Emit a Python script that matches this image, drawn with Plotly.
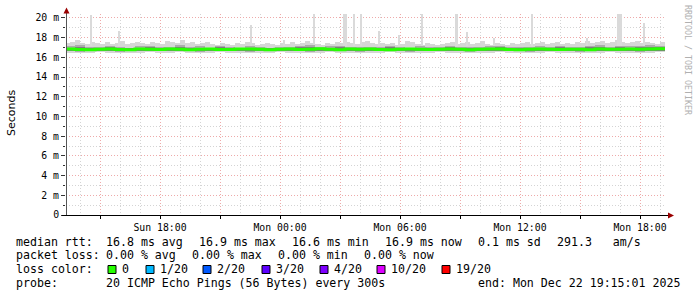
import numpy as np
import pandas as pd
import plotly.graph_objects as go

# ---------------- data ----------------
t_start = "2025-12-21 13:15"
t_end = "2025-12-22 19:15"

# upper envelope of the smoke, 15-minute blocks (ms)
smoke_hi15 = [
    17.5, 17.6, 17.8, 17.5, 17.4, 17.6, 17.5, 17.4,
    17.6, 17.4, 17.5, 17.7, 17.4, 17.5, 17.6, 17.5,
    17.4, 17.6, 17.5, 17.4, 17.7, 17.6, 17.5, 17.8,
    17.5, 17.6, 17.4, 17.5, 17.6, 17.4, 17.3, 17.5,
    17.4, 17.3, 17.5, 17.4, 17.6, 17.5, 17.3, 17.4,
    17.5, 17.4, 17.3, 17.5, 17.4, 17.6, 17.4, 17.5,
    17.7, 17.5, 17.4, 17.3, 17.5, 17.4, 17.6, 17.5,
    17.6, 17.5, 17.4, 17.6, 17.7, 17.5, 17.4, 17.5,
    17.4, 17.5, 17.3, 17.4, 17.7, 17.6, 17.4, 17.3,
    17.5, 17.4, 17.3, 17.4, 17.5, 17.6, 17.4, 17.5,
    17.6, 17.4, 17.5, 17.7, 17.4, 17.3, 17.5, 17.4,
    17.3, 17.5, 17.4, 17.5, 17.6, 17.4, 17.5, 17.6,
    17.4, 17.5, 17.6, 17.4, 17.5, 17.4, 17.6, 17.5,
    17.7, 17.5, 17.6, 17.7, 17.5, 17.6, 17.8, 17.6,
    17.5, 17.6, 17.7, 17.5, 17.6, 17.5, 17.4, 17.6,
]
# lower envelope of the smoke, 30-minute blocks (ms)
smoke_lo30 = [
    16.45, 16.40, 16.45, 16.50, 16.45, 16.40, 16.45, 16.45, 16.50, 16.45,
    16.45, 16.50, 16.45, 16.40, 16.45, 16.50, 16.45, 16.45, 16.40, 16.45,
    16.45, 16.50, 16.45, 16.45, 16.40, 16.45, 16.50, 16.45, 16.45, 16.40,
    16.45, 16.45, 16.50, 16.45, 16.40, 16.45, 16.45, 16.50, 16.45, 16.45,
    16.40, 16.45, 16.45, 16.50, 16.45, 16.45, 16.40, 16.45, 16.50, 16.45,
    16.45, 16.40, 16.45, 16.45, 16.50, 16.45, 16.45, 16.40, 16.45, 16.50,
]
# inner (denser) smoke band, 30-minute blocks (ms)
mid_hi30 = [
    17.15, 17.25, 17.10, 17.05, 17.20, 17.10, 17.00, 17.15, 17.20, 17.05,
    17.10, 17.25, 17.05, 17.15, 17.00, 17.20, 17.05, 17.00, 17.15, 17.05,
    17.00, 17.10, 17.05, 17.20, 17.25, 17.05, 17.15, 17.20, 17.10, 17.05,
    17.05, 17.10, 17.20, 17.05, 17.00, 17.15, 17.05, 17.10, 17.20, 17.05,
    17.10, 17.05, 17.15, 17.20, 17.05, 17.10, 17.05, 17.15, 17.05, 17.20,
    17.10, 17.05, 17.20, 17.25, 17.10, 17.20, 17.15, 17.20, 17.25, 17.20,
]
mid_lo30 = [
    16.60, 16.55, 16.60, 16.65, 16.60, 16.55, 16.60, 16.60, 16.65, 16.60,
    16.60, 16.65, 16.60, 16.55, 16.60, 16.65, 16.60, 16.60, 16.55, 16.60,
    16.60, 16.65, 16.60, 16.60, 16.55, 16.60, 16.65, 16.60, 16.60, 16.55,
    16.60, 16.60, 16.65, 16.60, 16.55, 16.60, 16.60, 16.65, 16.60, 16.60,
    16.55, 16.60, 16.60, 16.65, 16.60, 16.60, 16.55, 16.60, 16.65, 16.60,
    16.60, 16.55, 16.60, 16.60, 16.65, 16.60, 16.60, 16.55, 16.60, 16.65,
]
# darkest core around the median, 30-minute blocks (ms)
dark_hi30 = [
    17.00, 17.05, 16.95, 17.00, 17.05, 16.95, 16.90, 17.00, 17.05, 16.90,
    17.00, 17.05, 16.90, 17.00, 16.90, 17.05, 16.90, 16.90, 17.00, 16.90,
    16.90, 17.00, 16.90, 17.05, 17.05, 16.90, 17.00, 17.05, 16.95, 16.90,
    16.90, 17.00, 17.05, 16.90, 16.90, 17.00, 16.90, 17.00, 17.05, 16.90,
    17.00, 16.90, 17.00, 17.05, 16.90, 17.00, 16.90, 17.00, 16.90, 17.05,
    17.00, 16.90, 17.05, 17.05, 17.00, 17.05, 17.00, 17.05, 17.05, 17.05,
]
dark_lo30 = [
    16.62, 16.60, 16.62, 16.64, 16.62, 16.60, 16.62, 16.62, 16.64, 16.62,
    16.62, 16.64, 16.62, 16.60, 16.62, 16.64, 16.62, 16.62, 16.60, 16.62,
    16.62, 16.64, 16.62, 16.62, 16.60, 16.62, 16.64, 16.62, 16.62, 16.60,
    16.62, 16.62, 16.64, 16.62, 16.60, 16.62, 16.62, 16.64, 16.62, 16.62,
    16.60, 16.62, 16.62, 16.64, 16.62, 16.62, 16.60, 16.62, 16.64, 16.62,
    16.62, 16.60, 16.62, 16.62, 16.64, 16.62, 16.62, 16.60, 16.62, 16.64,
]
# median rtt, 30-minute blocks (ms)
median30 = [
    16.84, 16.80, 16.78, 16.83, 16.86, 16.80, 16.77, 16.84, 16.83, 16.79,
    16.86, 16.82, 16.78, 16.83, 16.85, 16.80, 16.79, 16.84, 16.86, 16.81,
    16.78, 16.82, 16.85, 16.79, 16.83, 16.87, 16.81, 16.78, 16.84, 16.82,
    16.85, 16.79, 16.78, 16.82, 16.86, 16.83, 16.79, 16.82, 16.85, 16.81,
    16.78, 16.82, 16.84, 16.86, 16.80, 16.77, 16.82, 16.85, 16.81, 16.79,
    16.83, 16.81, 16.78, 16.84, 16.81, 16.83, 16.86, 16.82, 16.85, 16.88,
]
# isolated slow pings (start time, top in ms, duration in minutes)
spike_time = ["2025-12-21 14:30", "2025-12-21 15:55", "2025-12-21 22:30",
              "2025-12-22 00:10", "2025-12-22 01:40", "2025-12-22 03:10",
              "2025-12-22 03:40", "2025-12-22 04:00", "2025-12-22 04:55",
              "2025-12-22 05:55", "2025-12-22 07:05", "2025-12-22 08:45",
              "2025-12-22 09:20", "2025-12-22 10:40", "2025-12-22 12:35",
              "2025-12-22 15:20", "2025-12-22 16:50", "2025-12-22 18:10"]
spike_top = [20.3, 18.7, 19.3, 17.8, 20.4, 20.4, 20.4, 20.4, 18.7,
             18.3, 20.4, 20.4, 18.6, 18.0, 20.4, 18.0, 20.4, 19.5]
spike_dur = [5, 5, 5, 5, 5, 10, 5, 5, 5, 5, 5, 10, 5, 5, 5, 5, 15, 5]
spike_base = 17.2

tick_times = ["2025-12-21 15:00", "2025-12-21 18:00", "2025-12-21 21:00",
              "2025-12-22 00:00", "2025-12-22 03:00", "2025-12-22 06:00",
              "2025-12-22 09:00", "2025-12-22 12:00", "2025-12-22 15:00",
              "2025-12-22 18:00"]
tick_text = ["", "Sun 18:00", "", "Mon 00:00", "", "Mon 06:00", "",
             "Mon 12:00", "", "Mon 18:00"]
y_ticks = [0, 2, 4, 6, 8, 10, 12, 14, 16, 18, 20]
y_text = ["0", "2 m", "4 m", "6 m", "8 m", "10 m", "12 m", "14 m", "16 m",
          "18 m", "20 m"]

loss_labels = ["0", "1/20", "2/20", "3/20", "4/20", "10/20", "19/20"]
loss_colors = ["#26ff00", "#00b8ff", "#0059ff", "#5e00ff", "#7e00ff",
               "#dd00ff", "#ff0000"]

line1 = ["median rtt:", "16.8 ms avg", "16.9 ms max", "16.6 ms min",
         "16.9 ms now", "0.1 ms sd", "291.3   am/s"]
line2 = ["packet loss:", "0.00 % avg", "0.00 % max", "0.00 % min",
         "0.00 % now"]
line4 = ["probe:", "20 ICMP Echo Pings (56 Bytes) every 300s",
         "end: Mon Dec 22 19:15:01 2025"]

# ---------------- build ----------------
t15 = pd.date_range(t_start, periods=len(smoke_hi15), freq="15min")
t30 = pd.date_range(t_start, periods=len(median30), freq="30min")
lo30 = np.array(smoke_lo30)
lo15 = np.repeat(lo30, 2)
ms15 = 15 * 60 * 1000
ms30 = 30 * 60 * 1000

LIGHT = "#d6d6d6"
MID = "#ababab"
DARK = "#7c7c7c"

fig = go.Figure()
fig.add_trace(go.Bar(x=t15, y=np.array(smoke_hi15) - lo15, base=lo15,
                     width=ms15, offset=0, marker_color=LIGHT,
                     marker_line_width=0, hoverinfo="skip"))
sp_lo = np.full(len(spike_top), spike_base)
fig.add_trace(go.Bar(x=pd.to_datetime(spike_time),
                     y=np.array(spike_top) - sp_lo, base=sp_lo,
                     width=[d * 60000 for d in spike_dur], offset=0,
                     marker_color="#dadada", marker_line_width=0,
                     hoverinfo="skip"))
fig.add_trace(go.Bar(x=t30, y=np.array(mid_hi30) - np.array(mid_lo30),
                     base=mid_lo30, width=ms30, offset=0, marker_color=MID,
                     marker_line_width=0, hoverinfo="skip"))
fig.add_trace(go.Bar(x=t30, y=np.array(dark_hi30) - np.array(dark_lo30),
                     base=dark_lo30, width=ms30, offset=0, marker_color=DARK,
                     marker_line_width=0, hoverinfo="skip"))
med_x = list(t30) + [pd.Timestamp(t_end)]
med_y = list(median30) + [median30[-1]]
fig.add_trace(go.Scatter(x=med_x, y=med_y, mode="lines",
                         line=dict(color=loss_colors[0], width=3, shape="hv"),
                         hoverinfo="skip"))

# ---------------- layout ----------------
L, T, W, H = 66, 14, 600, 201
FIG_W, FIG_H = 697, 297


def px(x):
    return (x - L) / W


def py(y):
    return (T + H - y) / H


RED_GRID = "#eeaaaa"
GREY_GRID = "#d4d4d4"
DOT = "1px,2px"
MONO = "DejaVu Sans Mono"

fig.update_layout(
    width=FIG_W, height=FIG_H,
    margin=dict(l=L, r=FIG_W - L - W, t=T, b=FIG_H - T - H, pad=0),
    paper_bgcolor="white", plot_bgcolor="white",
    showlegend=False, barmode="overlay", bargap=0,
    xaxis=dict(
        type="date", range=["2025-12-21 13:18", "2025-12-22 19:18"],
        tickmode="array", tickvals=tick_times, ticktext=tick_text,
        showgrid=True, gridcolor=RED_GRID, gridwidth=1, griddash=DOT,
        ticks="outside", ticklen=3, tickcolor="black", tickwidth=1,
        tickfont=dict(family=MONO, size=9.8, color="black"),
        zeroline=False, showline=False, fixedrange=True,
        minor=dict(dtick=3600000, tick0="2025-12-21 00:00", showgrid=True,
                   gridcolor=GREY_GRID, griddash=DOT, gridwidth=1, ticks=""),
    ),
    yaxis=dict(
        range=[0, 20.4], tickmode="array", tickvals=y_ticks, ticktext=y_text,
        showgrid=True, gridcolor=RED_GRID, gridwidth=1, griddash=DOT,
        ticks="outside", ticklen=4, tickcolor="#333333", tickwidth=1,
        tickfont=dict(family=MONO, size=9.8, color="black"),
        zeroline=False, showline=False, fixedrange=True,
        minor=dict(dtick=1, showgrid=True, gridcolor=GREY_GRID,
                   griddash=DOT, gridwidth=1, ticks="outside", ticklen=2,
                   tickcolor="#333333"),
    ),
)

shapes = []
# y axis line + arrow
shapes.append(dict(type="line", xref="paper", yref="paper",
                   x0=px(66.5), x1=px(66.5), y0=py(215), y1=py(12),
                   line=dict(color="#555555", width=1)))
shapes.append(dict(type="path", xref="paper", yref="paper",
                   path=f"M {px(63.5)} {py(13.5)} L {px(69.5)} {py(13.5)} "
                        f"L {px(66.5)} {py(7.5)} Z",
                   fillcolor="#9a0000", line=dict(width=0)))
# x axis line + arrow
shapes.append(dict(type="line", xref="paper", yref="paper",
                   x0=px(62), x1=px(669), y0=py(215.5), y1=py(215.5),
                   line=dict(color="black", width=1)))
shapes.append(dict(type="path", xref="paper", yref="paper",
                   path=f"M {px(668)} {py(212.5)} L {px(668)} {py(218.5)} "
                        f"L {px(674)} {py(215.5)} Z",
                   fillcolor="#9a0000", line=dict(width=0)))

annotations = []
TXT = dict(family=MONO, size=11.6, color="black")


def text(x, y, s, font=TXT, **kw):
    annotations.append(dict(xref="paper", yref="paper", x=px(x), y=py(y),
                            text=s, showarrow=False, xanchor="left",
                            yanchor="middle", font=font, borderpad=0,
                            borderwidth=0, **kw))


line1_x = [16, 106, 199, 292, 385, 478, 557]
line2_x = [16, 106, 192, 278, 364]
line4_x = [16, 106, 478]
for s, x in zip(line1, line1_x):
    text(x, 241.5, s)
for s, x in zip(line2, line2_x):
    text(x, 255, s)
text(16, 268.7, "loss color:")
box_x = [108, 146, 203, 262, 320, 377, 442]
for lab, col, bx in zip(loss_labels, loss_colors, box_x):
    shapes.append(dict(type="rect", xref="paper", yref="paper",
                       x0=px(bx), x1=px(bx + 8), y0=py(273.5), y1=py(265.5),
                       fillcolor=col, line=dict(color="black", width=1)))
    text(bx + 14, 268.7, lab)
for s, x in zip(line4, line4_x):
    text(x, 282.5, s)

# y axis title
annotations.append(dict(xref="paper", yref="paper", x=px(11), y=py(113),
                        text="Seconds", showarrow=False, textangle=-90,
                        xanchor="center", yanchor="middle",
                        font=dict(family="DejaVu Sans", size=11,
                                  color="black")))
# watermark
annotations.append(dict(xref="paper", yref="paper", x=px(688), y=py(60),
                        text="RRDTOOL / TOBI OETIKER", showarrow=False,
                        textangle=90, xanchor="center", yanchor="middle",
                        font=dict(family=MONO, size=8.3, color="#b0b0b0")))

fig.update_layout(shapes=shapes, annotations=annotations)
fig.write_html("out.html")
